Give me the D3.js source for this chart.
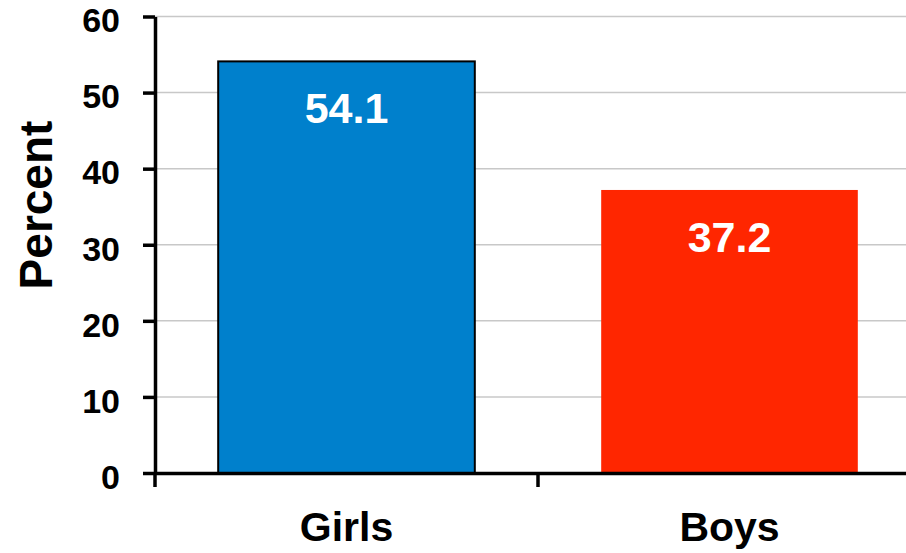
<!DOCTYPE html>
<html><head><meta charset="utf-8">
<script src="https://cdn.jsdelivr.net/npm/d3@7"></script>
<style>body{margin:0;background:#fff}svg{display:block}text{font-family:"Liberation Sans",Arial,sans-serif;font-weight:bold}</style>
</head><body>
<script>
const categories = ["Girls", "Boys"];
const values = [54.1, 37.2];
const colors = ["#0080CC", "#FF2600"];
const yTicks = [0, 10, 20, 30, 40, 50, 60];
const yLabel = "Percent";

const W = 906, H = 553;
const FONT = '"Liberation Sans",Arial,sans-serif';
const svg = d3.select("body").append("svg").attr("width", W).attr("height", H);
const x = d3.scaleBand().domain(categories).range([155, 921]).paddingInner(0.33).paddingOuter(0.165);
const x0 = d3.scaleBand().domain(categories).range([155, 921]);
const y = d3.scaleLinear().domain([0, 60]).range([473, 16.5]);

// gridlines
svg.append("g").selectAll("line").data(yTicks.filter(d => d > 0)).join("line")
  .attr("x1", 155).attr("x2", W).attr("y1", d => y(d)).attr("y2", d => y(d))
  .attr("stroke", "#c8c8c8").attr("stroke-width", 1.5);

// bars
svg.append("g").selectAll("rect").data(values).join("rect")
  .attr("x", (d, i) => x(categories[i]))
  .attr("width", x.bandwidth())
  .attr("y", d => y(d))
  .attr("height", d => y(0) - y(d))
  .attr("fill", (d, i) => colors[i])
  .attr("stroke", (d, i) => i === 0 ? "#000" : "none")
  .attr("stroke-width", 2);

// value labels
svg.append("g").selectAll("text").data(values).join("text")
  .attr("x", (d, i) => x(categories[i]) + x.bandwidth() / 2)
  .attr("y", d => y(d) + 62)
  .attr("text-anchor", "middle").attr("fill", "#fff").attr("font-size", 43)
  .text(d => d.toFixed(1));

// y axis
const yAxis = svg.append("g").attr("transform", "translate(155,0)")
  .call(d3.axisLeft(y).tickValues(yTicks).tickSize(12).tickPadding(23).tickSizeOuter(0));
yAxis.select(".domain").attr("stroke", "#000").attr("stroke-width", 3.5);
yAxis.selectAll(".tick line").attr("stroke", "#000").attr("stroke-width", 3.5);
yAxis.selectAll(".tick text").attr("font-size", 34).attr("fill", "#000").attr("dy", "0.45em")
  .style("font-family", FONT).style("font-weight", "bold");

// x axis
const xAxis = svg.append("g").attr("transform", "translate(0,473)")
  .call(d3.axisBottom(x0).tickSize(0).tickSizeOuter(0));
xAxis.select(".domain").attr("stroke", "#000").attr("stroke-width", 3.5);
xAxis.selectAll(".tick text").attr("font-size", 41).attr("fill", "#000")
  .attr("y", 68).attr("dy", "0")
  .style("font-family", FONT).style("font-weight", "bold");
// category boundary ticks
svg.append("g").selectAll("line").data(categories).join("line")
  .attr("x1", d => x0(d)).attr("x2", d => x0(d))
  .attr("y1", 473).attr("y2", 487)
  .attr("stroke", "#000").attr("stroke-width", 3.5);

// y label
svg.append("text").attr("transform", "translate(52,205) rotate(-90)")
  .attr("text-anchor", "middle").attr("font-size", 46).attr("fill", "#000").text(yLabel);
</script>
</body></html>
